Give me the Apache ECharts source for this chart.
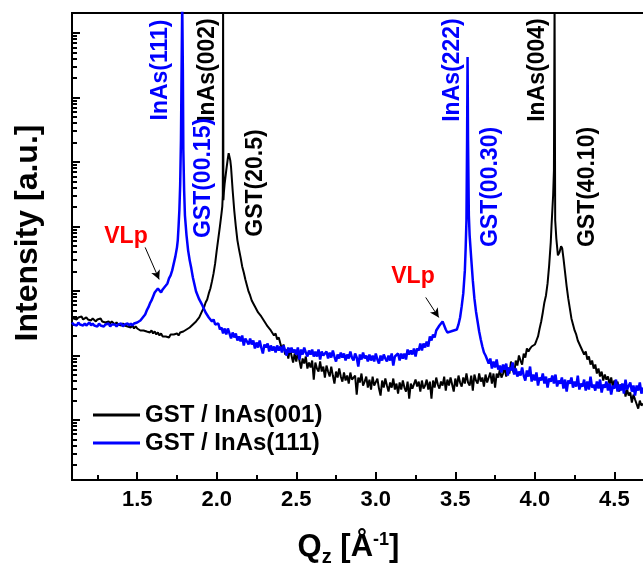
<!DOCTYPE html>
<html><head><meta charset="utf-8">
<script src="https://cdn.jsdelivr.net/npm/echarts@6/dist/echarts.min.js"></script>
<style>html,body{margin:0;padding:0;background:#fff}#c{width:643px;height:566px}</style>
</head><body><div id="c"></div>
<script>
// ---- Data: GST / InAs(001) (black) ----
const qBlack = [
1.09,1.10,1.11,1.12,1.13,1.14,1.15,1.16,1.17,1.18,
1.19,1.20,1.21,1.22,1.23,1.24,1.25,1.26,1.27,1.28,
1.29,1.30,1.31,1.32,1.33,1.34,1.35,1.36,1.37,1.38,
1.39,1.40,1.41,1.42,1.43,1.44,1.45,1.46,1.47,1.48,
1.49,1.50,1.51,1.52,1.53,1.54,1.55,1.56,1.57,1.58,
1.59,1.60,1.61,1.62,1.63,1.64,1.65,1.66,1.67,1.68,
1.69,1.70,1.71,1.72,1.73,1.74,1.75,1.76,1.77,1.78,
1.79,1.80,1.81,1.82,1.83,1.84,1.85,1.86,1.87,1.88,
1.89,1.90,
1.91,1.92,1.93,1.94,1.95,1.96,1.97,1.98,1.99,2.00,
2.01,2.02,2.03,2.035,2.038,2.04,2.042,2.045,
2.05,2.06,2.07,2.075,2.08,2.085,2.09,
2.10,2.11,2.12,2.13,2.14,2.15,2.16,2.17,2.18,2.19,
2.20,2.21,2.22,2.23,2.24,2.25,2.26,2.27,2.28,2.29,
2.30,2.31,2.32,2.33,2.34,2.35,2.36,2.37,2.38,2.39,
2.40,
2.41,2.42,2.43,2.44,2.45,2.46,2.47,2.48,2.49,2.50,
2.51,2.52,2.53,2.54,2.55,2.56,2.57,2.58,2.59,2.60,
2.61,2.62,2.63,2.64,2.65,2.66,2.67,2.68,2.69,2.70,
2.71,2.72,2.73,2.74,2.75,2.76,2.77,2.78,2.79,2.80,
2.81,2.82,2.83,2.84,2.85,2.86,2.87,2.88,2.89,2.90,
2.91,2.92,2.93,2.94,2.95,2.96,2.97,2.98,2.99,3.00,
3.01,3.02,3.03,3.04,3.05,3.06,3.07,3.08,3.09,3.10,
3.11,3.12,3.13,3.14,3.15,3.16,3.17,3.18,3.19,3.20,
3.21,3.22,3.23,3.24,3.25,3.26,3.27,3.28,3.29,3.30,
3.31,3.32,3.33,3.34,3.35,3.36,3.37,3.38,3.39,3.40,
3.41,3.42,3.43,3.44,3.45,3.46,3.47,3.48,3.49,3.50,
3.51,3.52,3.53,3.54,3.55,3.56,3.57,3.58,3.59,3.60,
3.61,3.62,3.63,3.64,3.65,3.66,3.67,3.68,3.69,3.70,
3.71,3.72,3.73,3.74,3.75,3.76,3.77,3.78,3.79,3.80,
3.81,3.82,3.83,3.84,3.85,3.86,3.87,3.88,3.89,3.90,
3.91,3.92,3.93,3.94,3.95,
3.96,3.97,3.98,3.99,4.00,4.01,4.02,4.03,4.04,4.05,
4.06,4.07,4.08,4.09,4.10,
4.105,4.11,4.115,4.12,4.124,4.128,4.135,4.145,4.155,4.165,4.172,4.18,4.19,
4.20,4.21,4.22,4.23,4.24,4.25,4.26,4.27,4.28,4.29,
4.30,4.31,4.32,4.33,4.34,4.35,4.36,4.37,4.38,4.39,
4.40,4.41,4.42,4.43,4.44,4.45,4.46,4.47,4.48,4.49,
4.50,4.51,4.52,4.53,4.54,4.55,4.56,4.57,4.58,4.59,
4.60,4.61,4.62,4.63,4.64,4.65,4.66,4.67,4.68
];
const iBlack = [
4019,3742,3878,3610,3878,3742,4019,3610,3742,3878,
3610,3742,3483,3742,3610,3361,3610,3483,3742,3361,
3483,3243,3483,3361,3129,3361,3243,3019,3243,3019,
3129,2912,3129,2912,3019,2810,2912,2711,2912,2616,
2810,2616,2711,2436,2616,2436,2524,2350,2436,2268,
2436,2188,2350,2111,2268,2037,2188,1966,2111,1966,
2111,1897,2111,1966,2111,2037,2188,2037,2268,2188,
2350,2268,2524,2436,2711,2711,3019,3019,3361,3483,
3878,4165,
4980,5544,6629,7380,9150,10930,14050,18700,26740,42570,
65380,100400,159900,205400,304200,3e8,254400,338700,
467300,743800,1142000,1365000,1271000,1063000,828000,
363800,178000,100400,60870,44120,33150,24020,19370,15090,12170,
9820,8515,7120,6870,5746,5544,4636,4805,4019,3878,
3361,3483,2810,2912,2436,2350,2037,2188,1766,1897,
1530,
1235,1476,1033,1235,895,1280,996,776,1070,804,
1109,833,626,895,748,961,626,776,649,833,
422,776,626,562,804,562,672,454,697,562,
470,672,487,366,562,454,626,470,393,543,
408,487,366,543,422,393,487,247,454,380,
524,341,393,470,317,422,296,470,341,353,
438,306,238,408,317,438,341,275,380,317,
438,296,366,256,380,296,408,317,275,393,
214,366,306,285,422,329,393,275,408,306,
341,422,296,393,214,408,317,454,353,306,
393,341,470,285,422,341,454,353,275,438,
329,487,380,329,454,366,524,380,341,487,
285,505,408,366,524,393,454,329,505,380,
408,543,366,524,317,524,454,604,454,524,
649,470,649,524,804,604,524,833,697,996,
833,722,1070,927,1280,
1150,1280,1375,1326,1476,1703,1966,2616,3361,4636,
6629,8515,13080,24900,56670,
104100,178000,304200,743800,3e8,124500,65380,35600,39630,49110,45720,31980,19370,
11740,7650,5349,3742,3019,2436,2111,1703,1644,1326,
1280,1033,1150,863,961,722,833,626,722,524,
626,470,562,408,505,422,470,353,454,329,
408,341,393,275,353,296,341,230,296,238,
266,186,247,207,222,150,199,167,179
];

// ---- Data: GST / InAs(111) (blue) ----
const qBlue = [
1.09,1.10,1.11,1.12,1.13,1.14,1.15,1.16,1.17,1.18,
1.19,1.20,1.21,1.22,1.23,1.24,1.25,1.26,1.27,1.28,
1.29,1.30,1.31,1.32,1.33,1.34,1.35,1.36,1.37,1.38,
1.39,1.40,1.41,1.42,1.43,1.44,1.45,1.46,1.47,1.48,
1.49,1.50,1.51,1.52,
1.53,1.54,1.55,1.56,1.57,1.58,1.59,1.60,1.61,1.62,
1.63,1.64,1.65,1.66,1.67,1.68,1.69,1.70,1.71,1.72,
1.73,1.74,1.75,
1.755,1.76,1.765,1.77,1.775,1.779,1.783,1.787,1.79,1.795,
1.80,1.81,1.82,1.83,1.84,1.85,1.86,1.87,1.88,1.89,
1.90,1.91,1.92,1.93,1.94,1.95,1.96,1.97,1.98,1.99,2.00,
2.01,2.02,2.03,2.04,2.05,2.06,2.07,2.08,2.09,2.10,
2.11,2.12,2.13,2.14,2.15,2.16,2.17,2.18,2.19,2.20,
2.21,2.22,2.23,2.24,2.25,2.26,2.27,2.28,2.29,2.30,
2.31,2.32,2.33,2.34,2.35,2.36,2.37,2.38,2.39,2.40,
2.41,2.42,2.43,2.44,2.45,2.46,2.47,2.48,2.49,2.50,
2.51,2.52,2.53,2.54,2.55,2.56,2.57,2.58,2.59,2.60,
2.61,2.62,2.63,2.64,2.65,2.66,2.67,2.68,2.69,2.70,
2.71,2.72,2.73,2.74,2.75,2.76,2.77,2.78,2.79,2.80,
2.81,2.82,2.83,2.84,2.85,2.86,2.87,2.88,2.89,2.90,
2.91,2.92,2.93,2.94,2.95,2.96,2.97,2.98,2.99,3.00,
3.01,3.02,3.03,3.04,3.05,3.06,3.07,3.08,3.09,3.10,
3.11,3.12,3.13,3.14,3.15,3.16,3.17,3.18,3.19,3.20,
3.21,3.22,3.23,3.24,3.25,3.26,3.27,3.28,3.29,3.30,
3.31,3.32,3.33,3.34,3.35,3.36,3.37,3.38,3.39,3.40,
3.41,3.42,3.43,3.44,3.45,3.46,3.47,3.48,3.49,3.50,
3.51,3.52,3.53,3.54,3.55,3.56,3.565,3.57,3.574,3.577,
3.58,3.585,3.59,3.60,3.61,3.62,3.63,3.64,3.65,3.66,
3.67,3.68,3.69,3.70,
3.71,3.72,3.73,3.74,3.75,3.76,3.77,3.78,3.79,3.80,
3.81,3.82,3.83,3.84,3.85,3.86,3.87,3.88,3.89,3.90,
3.91,3.92,3.93,3.94,3.95,3.96,3.97,3.98,3.99,4.00,
4.01,4.02,4.03,4.04,4.05,4.06,4.07,4.08,4.09,4.10,
4.11,4.12,4.13,4.14,4.15,4.16,4.17,4.18,4.19,4.20,
4.21,4.22,4.23,4.24,4.25,4.26,4.27,4.28,4.29,4.30,
4.31,4.32,4.33,4.34,4.35,4.36,4.37,4.38,4.39,4.40,
4.41,4.42,4.43,4.44,4.45,4.46,4.47,4.48,4.49,4.50,
4.51,4.52,4.53,4.54,4.55,4.56,4.57,4.58,4.59,4.60,
4.61,4.62,4.63,4.64,4.65,4.66,4.67,4.68
];
const iBlue = [
3243,3019,3129,2912,3243,3019,3129,2912,3129,2912,
3019,3243,2912,3129,2912,3019,2810,3129,2912,3019,
2810,3019,2912,3129,2810,3019,2912,3019,2810,3019,
2912,3129,2810,3019,2912,3129,2912,3129,2912,3129,
3019,3243,3129,3483,
3610,4019,4317,4980,5544,6396,7120,8217,9480,9820,
10930,10540,9480,10540,11330,12170,13080,15640,17400,20820,
26740,34350,47400,
60870,100400,178000,435000,2170000,26500000,3e8,26500000,1520000,363800,
148900,72800,42570,29770,22380,16200,12610,9820,9480,7380,
7120,5955,5746,4636,4805,3878,4019,3361,3610,3019,3129,
3129,2524,2711,2188,2616,2111,2616,2188,1830,2268,
1897,2188,1703,1966,1644,2037,1425,1830,1644,1476,
1830,1476,1703,1280,1586,1326,1703,1326,1070,1476,
1326,1530,1150,1425,1191,1375,1109,1425,1191,1375,
1109,1425,1191,996,1326,1109,1326,1109,1235,1033,
1326,863,1235,1033,1326,1109,961,1191,1033,1235,
961,1150,961,1235,863,1150,996,996,1150,895,
1109,927,1191,961,804,1033,895,1109,927,1070,
833,1033,895,1150,927,833,1070,927,672,1033,
863,1109,895,996,804,1033,833,996,804,1070,
863,748,996,833,1033,895,804,996,833,1070,
697,961,895,1070,833,1070,895,1070,863,1235,
1033,1191,1033,1280,961,1280,1191,1530,1191,1530,
1326,1644,1375,1966,1703,2111,1897,2436,2436,2912,
3129,3361,2912,2524,2268,2188,2350,2268,2436,2350,
2524,3019,3878,5746,9150,20820,45720,124500,2170000,42300000,
2170000,148900,72800,31980,14560,7650,4805,3361,2350,1766,
1375,1109,996,863,
748,895,626,804,649,863,604,697,543,722,
604,748,487,649,583,776,505,626,470,562,
487,649,487,408,583,470,672,393,505,408,
543,341,454,408,524,366,470,317,438,393,
487,366,505,329,408,366,454,306,422,275,
408,366,454,317,393,329,487,296,366,329,
422,285,393,296,470,317,353,285,393,306,
422,266,353,317,393,285,366,247,341,306,
422,275,353,285,366,256,422,296,306,380,
275,341,238,341,285,380,256,317
];

// ---- Axes / labels ----
const seriesNames = ['GST / InAs(001)', 'GST / InAs(111)'];
const seriesColors = ['#000000', '#0000ff'];
const xRange = [1.09, 4.68];
const yRange = [11.7, 2.04e8];
const xTickLabels = [1.5, 2.0, 2.5, 3.0, 3.5, 4.0, 4.5];
const xMinorTicks = [1.25, 1.75, 2.25, 2.75, 3.25, 3.75, 4.25];
const yMajorTicks = [1e2, 1e3, 1e4, 1e5, 1e6, 1e7, 1e8];
const yMinorMultipliers = [2, 3, 4, 5, 6, 7, 8, 9];
const yMinorDecades = [1e1, 1e2, 1e3, 1e4, 1e5, 1e6, 1e7];
const yMinorTicks = [];
yMinorDecades.forEach(d => yMinorMultipliers.forEach(m => yMinorTicks.push(m * d)));
const yTitle = 'Intensity [a.u.]';

// peak annotations: text, colour, centre (px)
const peakLabels = [
  ['InAs(111)', '#0000ff', 161, 70],
  ['InAs(002)', '#000000', 208, 70],
  ['GST(00.15)', '#0000ff', 204, 178],
  ['GST(20.5)', '#000000', 256, 183],
  ['InAs(222)', '#0000ff', 453, 70],
  ['GST(00.30)', '#0000ff', 491, 187],
  ['InAs(004)', '#000000', 538, 70],
  ['GST(40.10)', '#000000', 588, 187]
];
const vlpLabels = [['VLp', 126, 237], ['VLp', 413, 277]];
// arrows in data coordinates [Q, I]
const vlpArrows = [
  [[1.55, 47300], [1.638, 15100]],
  [[3.314, 7930], [3.396, 3880]]
];

const FONT = '"Liberation Sans", Arial, Helvetica, sans-serif';
const pair = (q, v) => q.map((x, k) => [x, v[k]]);

const chart = echarts.init(document.getElementById('c'), null, {renderer: 'canvas'});

const L = () => ({color: '#000', width: 2});
const graphics = [];
peakLabels.forEach(([t, c, x, y]) => graphics.push({
  type: 'text', x: x, y: y, rotation: Math.PI / 2, z: 100,
  style: {text: t, fill: c, font: 'bold 23px ' + FONT,
    textAlign: 'center', textVerticalAlign: 'middle', align: 'center', verticalAlign: 'middle'}
}));
vlpLabels.forEach(([t, x, y]) => graphics.push({
  type: 'text', x: x, y: y, z: 100,
  style: {text: t, fill: '#ff0000', font: 'bold 23px ' + FONT,
    textAlign: 'center', textVerticalAlign: 'middle', align: 'center', verticalAlign: 'middle'}
}));
graphics.push({
  type: 'text', x: 28, y: 233, rotation: Math.PI / 2, z: 100,
  style: {text: yTitle, fill: '#000', font: 'bold 32px ' + FONT,
    textAlign: 'center', textVerticalAlign: 'middle', align: 'center', verticalAlign: 'middle'}
});

const option = {
  animation: false,
  backgroundColor: '#ffffff',
  grid: {left: 72, right: 0, top: 13, bottom: 86, containLabel: false, outerBoundsMode: 'none'},
  legend: {
    data: seriesNames, orient: 'vertical', left: 88, top: 398,
    icon: 'rect', itemWidth: 47, itemHeight: 3, itemGap: 4,
    textStyle: {fontFamily: FONT, fontWeight: 'bold', fontSize: 24, color: '#000', lineHeight: 24}
  },
  xAxis: [
    {
      type: 'value', min: xRange[0], max: xRange[1], position: 'bottom',
      axisLine: {show: true, onZero: false, lineStyle: L()},
      axisTick: {show: true, inside: true, length: 8, lineStyle: L(), customValues: xTickLabels},
      axisLabel: {show: true, customValues: xTickLabels, formatter: v => Number(v).toFixed(1),
        color: '#000', fontFamily: FONT, fontWeight: 'bold', fontSize: 22, margin: 9},
      splitLine: {show: false},
      name: '{q|Q}{z|z}{q| [Å}{s|-1}{q|]}', nameLocation: 'middle', nameGap: 47,
      nameTextStyle: {
        color: '#000', fontFamily: FONT, fontWeight: 'bold', fontSize: 31, padding: [0, 18, 0, 0],
        rich: {
          q: {fontFamily: FONT, fontWeight: 'bold', fontSize: 31, color: '#000'},
          z: {fontFamily: FONT, fontWeight: 'bold', fontSize: 20, color: '#000', padding: [20, 0, 0, 0]},
          s: {fontFamily: FONT, fontWeight: 'bold', fontSize: 18, color: '#000', padding: [0, 0, 14, 0]}
        }
      }
    },
    {
      type: 'value', min: xRange[0], max: xRange[1], position: 'bottom',
      axisLine: {show: true, onZero: false, lineStyle: L()},
      axisTick: {show: true, inside: true, length: 5, lineStyle: L(), customValues: xMinorTicks},
      axisLabel: {show: false}, splitLine: {show: false}
    },
    {
      type: 'value', min: xRange[0], max: xRange[1], position: 'top',
      axisLine: {show: true, onZero: false, lineStyle: L()},
      axisTick: {show: false}, axisLabel: {show: false}, splitLine: {show: false}
    }
  ],
  yAxis: [
    {
      type: 'log', logBase: 10, min: yRange[0], max: yRange[1], position: 'left',
      axisLine: {show: true, onZero: false, lineStyle: L()},
      axisTick: {show: true, inside: true, length: 8, lineStyle: L(), customValues: yMajorTicks},
      axisLabel: {show: false}, splitLine: {show: false}
    },
    {
      type: 'log', logBase: 10, min: yRange[0], max: yRange[1], position: 'left',
      axisLine: {show: true, onZero: false, lineStyle: L()},
      axisTick: {show: true, inside: true, length: 5, lineStyle: L(), customValues: yMinorTicks},
      axisLabel: {show: false}, splitLine: {show: false}
    }
  ],
  series: [
    {
      name: seriesNames[0], type: 'line', xAxisIndex: 0, yAxisIndex: 0,
      data: pair(qBlack, iBlack), symbol: 'none', showSymbol: false, clip: true,
      lineStyle: {color: seriesColors[0], width: 2}, itemStyle: {color: seriesColors[0]},
      z: 2
    },
    {
      name: seriesNames[1], type: 'line', xAxisIndex: 0, yAxisIndex: 0,
      data: pair(qBlue, iBlue), symbol: 'none', showSymbol: false, clip: true,
      lineStyle: {color: seriesColors[1], width: 2.5}, itemStyle: {color: seriesColors[1]},
      z: 3,
      markLine: {
        silent: true, symbol: ['none', 'arrow'], symbolSize: [7, 9], animation: false,
        lineStyle: {color: '#000', width: 1, type: 'solid'}, label: {show: false},
        data: vlpArrows.map(a => [{coord: a[0]}, {coord: a[1]}])
      }
    }
  ],
  graphic: graphics
};
chart.setOption(option);
</script>
</body></html>
